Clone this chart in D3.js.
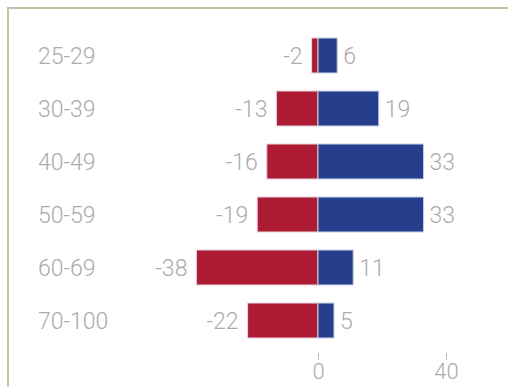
<!DOCTYPE html>
<html>
<head>
<meta charset="utf-8">
<script src="https://cdn.jsdelivr.net/npm/d3@7"></script>
<style>
  html, body { margin: 0; padding: 0; background: #fff; overflow: hidden; }
  svg { display: block; }
  text { font-family: Roboto, "DejaVu Sans Condensed", sans-serif; font-weight: 300; }
</style>
</head>
<body>
<div id="chart"></div>
<script>
  var ages = ["25-29", "30-39", "40-49", "50-59", "60-69", "70-100"];
  var negVals = [-2, -13, -16, -19, -38, -22];
  var posVals = [6, 19, 33, 33, 11, 5];
  var ticks = [0, 40];

  var red = "#ad1c33", blue = "#263f8c", grey = "#ababab";

  var svg = d3.select("#chart").append("svg").attr("width", 508).attr("height", 387);

  // frame, top and left only
  svg.append("line").attr("x1", 8).attr("y1", 8).attr("x2", 508).attr("y2", 8)
    .style("stroke", "#c9c0a8").style("stroke-width", 2);
  svg.append("line").attr("x1", 8).attr("y1", 7).attr("x2", 8).attr("y2", 387)
    .style("stroke", "#c9c0a8").style("stroke-width", 2);

  var x = d3.scaleLinear().domain([-40, 40]).range([190, 446]);
  var y = d3.scaleBand().domain(ages).range([29, 347]).paddingInner(0.34).paddingOuter(0.17);

  var rows = ages.map(function(a, i) {
    return { "age": a, "neg": negVals[i], "pos": posVals[i] };
  });

  svg.selectAll("text.cat").data(rows).enter().append("text")
    .attr("class", "cat")
    .attr("x", 38)
    .attr("y", function(d) { return y(d.age) + y.bandwidth() / 2; })
    .attr("dy", "0.36em")
    .style("font-size", "23px").style("fill", grey)
    .text(function(d) { return d.age; });

  svg.selectAll("rect.neg").data(rows).enter().append("rect")
    .attr("class", "neg")
    .attr("x", function(d) { return x(d.neg); })
    .attr("y", function(d) { return y(d.age); })
    .attr("width", function(d) { return x(0) - x(d.neg); })
    .attr("height", y.bandwidth())
    .style("fill", red).style("stroke", "#e8d0e0").style("stroke-width", 1);

  svg.selectAll("rect.pos").data(rows).enter().append("rect")
    .attr("class", "pos")
    .attr("x", x(0))
    .attr("y", function(d) { return y(d.age); })
    .attr("width", function(d) { return x(d.pos) - x(0); })
    .attr("height", y.bandwidth())
    .style("fill", blue).style("stroke", "#c8d0ea").style("stroke-width", 1);

  svg.selectAll("text.negl").data(rows).enter().append("text")
    .attr("class", "negl")
    .attr("x", function(d) { return x(d.neg) - 9; })
    .attr("y", function(d) { return y(d.age) + y.bandwidth() / 2; })
    .attr("dy", "0.36em")
    .attr("text-anchor", "end")
    .style("font-size", "23px").style("fill", grey)
    .text(function(d) { return d.neg; });

  svg.selectAll("text.posl").data(rows).enter().append("text")
    .attr("class", "posl")
    .attr("x", function(d) { return x(d.pos) + 6; })
    .attr("y", function(d) { return y(d.age) + y.bandwidth() / 2; })
    .attr("dy", "0.36em")
    .style("font-size", "23px").style("fill", grey)
    .text(function(d) { return d.pos; });

  var axis = svg.append("g").attr("transform", "translate(0,353)")
    .call(d3.axisBottom(x).tickValues(ticks).tickSize(7).tickPadding(3));
  axis.select(".domain").remove();
  axis.selectAll("line").style("stroke", "#bbbbbb");
  axis.selectAll("text").style("font-size", "22px").style("fill", grey)
    .style("font-family", "Roboto, 'DejaVu Sans Condensed', sans-serif").style("font-weight", 300);
</script>
</body>
</html>
